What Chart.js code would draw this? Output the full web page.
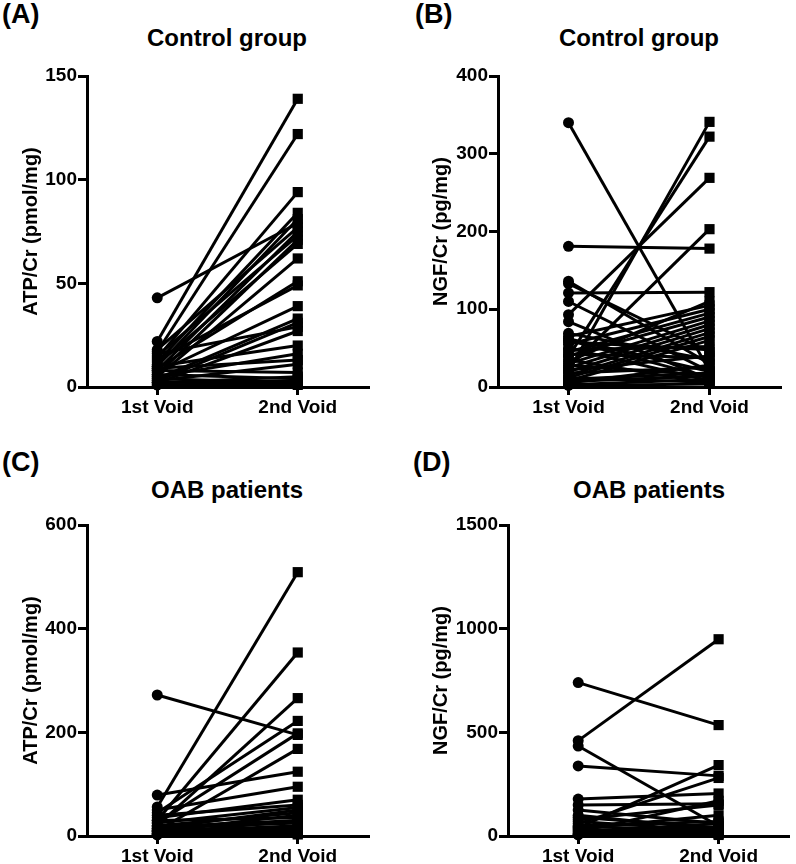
<!DOCTYPE html>
<html>
<head>
<meta charset="utf-8">
<script src="https://cdn.jsdelivr.net/npm/chart.js@4/dist/chart.umd.min.js"></script>
<style>
  html, body { margin: 0; padding: 0; background: #fff; }
  body { width: 796px; height: 864px; position: relative; overflow: hidden;
         font-family: 'Liberation Sans', Arial, sans-serif; font-weight: bold; color: #000; }
  .cell { position: absolute; }
  .letter { position: absolute; font-size: 27px; line-height: 27px; white-space: nowrap; }
  .ttl { position: absolute; font-size: 24px; line-height: 24px; white-space: nowrap; transform: translateX(-50%); }
</style>
</head>
<body>
<div class="letter" style="left:2px;top:1px;">(A)</div>
<div class="letter" style="left:415px;top:1px;">(B)</div>
<div class="letter" style="left:2px;top:449px;">(C)</div>
<div class="letter" style="left:413px;top:449px;">(D)</div>
<div class="ttl" style="left:227px;top:26px;">Control group</div>
<div class="ttl" style="left:639px;top:26px;">Control group</div>
<div class="ttl" style="left:227px;top:478px;">OAB patients</div>
<div class="ttl" style="left:649px;top:478px;">OAB patients</div>

<div class="cell" style="left:0;top:0;width:398px;height:420px;"><canvas id="cA" width="398" height="420"></canvas></div>
<div class="cell" style="left:398px;top:0;width:398px;height:420px;"><canvas id="cB" width="398" height="420"></canvas></div>
<div class="cell" style="left:0;top:420px;width:398px;height:444px;"><canvas id="cC" width="398" height="444"></canvas></div>
<div class="cell" style="left:398px;top:420px;width:398px;height:444px;"><canvas id="cD" width="398" height="444"></canvas></div>

<script>
// ---- categories ----
const voidLabels = ['1st Void', '2nd Void'];

// ---- (A) Control group, ATP/Cr (pmol/mg) ----
const ctrlAtpFirst  = [43, 22, 17, 14, 12, 10, 18, 8, 15, 6, 11, 5, 9, 13, 7, 4, 3, 16, 2, 10, 5, 3, 8, 2, 6, 1, 4, 1, 9, 2];
const ctrlAtpSecond = [79, 139, 122, 94, 84, 81, 77, 75, 73, 71, 69, 62, 51, 49, 39, 33, 31, 29, 27, 20, 16, 11, 7, 5, 4, 2, 2, 1, 13, 3];
const ticksA = [0, 50, 100, 150];

// ---- (B) Control group, NGF/Cr (pg/mg) ----
const ctrlNgfFirst  = [340, 181, 136, 133, 121, 110, 93, 84, 20, 39, 25, 69, 65, 60, 55, 50, 45, 40, 35, 30, 28, 25, 22, 20, 18, 15, 12, 10, 8, 5, 3, 48, 58, 33, 12, 7, 2, 62, 42];
const ctrlNgfSecond = [21, 178, 30, 45, 122, 20, 269, 10, 341, 322, 203, 35, 105, 12, 100, 8, 95, 90, 5, 85, 15, 80, 40, 75, 25, 70, 65, 18, 60, 28, 10, 52, 48, 110, 6, 14, 4, 20, 38];
const ticksB = [0, 100, 200, 300, 400];

// ---- (C) OAB patients, ATP/Cr (pmol/mg) ----
const oabAtpFirst  = [272, 79, 56, 30, 20, 45, 25, 10, 50, 35, 40, 15, 20, 10, 30, 5, 15, 8, 12, 3, 6, 25, 18, 4, 9, 2];
const oabAtpSecond = [195, 124, 509, 354, 266, 222, 198, 168, 95, 70, 60, 50, 45, 40, 35, 30, 25, 20, 15, 10, 5, 55, 30, 12, 8, 3];
const ticksC = [0, 200, 400, 600];

// ---- (D) OAB patients, NGF/Cr (pg/mg) ----
const oabNgfFirst  = [740, 460, 434, 338, 178, 150, 125, 100, 40, 60, 80, 20, 90, 70, 50, 30, 15, 10, 45, 25, 5, 35, 8];
const oabNgfSecond = [535, 949, 48, 290, 205, 155, 60, 30, 342, 280, 150, 170, 40, 25, 70, 20, 60, 15, 30, 10, 45, 100, 5];
const ticksD = [0, 500, 1000, 1500];

const FONT = "'Liberation Sans', Arial, sans-serif";
const LW = 3;

function makeChart(id, first, second, yTicks, yTitle, geom) {
  const datasets = first.map((a, i) => ({
    data: [{ x: 1, y: a }, { x: 2, y: second[i] }],
    borderColor: '#000',
    backgroundColor: '#000',
    borderWidth: LW,
    pointStyle: ['circle', 'rect'],
    pointRadius: [5.5, 7.2],
    pointBorderWidth: 0,
    pointBackgroundColor: '#000',
    clip: false,
    tension: 0
  }));
  return new Chart(document.getElementById(id), {
    type: 'line',
    data: { datasets },
    options: {
      responsive: false,
      animation: false,
      events: [],
      layout: { padding: { left: 0, right: geom.right, top: geom.top, bottom: 0 } },
      plugins: { legend: { display: false }, tooltip: { enabled: false }, title: { display: false } },
      scales: {
        x: {
          type: 'linear', min: 0.5, max: 2.5,
          afterBuildTicks: s => { s.ticks = [{ value: 1 }, { value: 2 }]; },
          afterFit: s => { s.height = geom.xh; },
          ticks: {
            autoSkip: false, maxRotation: 0, color: '#000', padding: geom.xpad,
            font: { family: FONT, size: 19, weight: 'bold' },
            callback: v => voidLabels[Math.round(v) - 1]
          },
          grid: { display: true, drawOnChartArea: false, drawTicks: true, tickLength: 8,
                  tickColor: '#000', tickWidth: LW, color: '#000', lineWidth: LW },
          border: { display: true, color: '#000', width: LW }
        },
        y: {
          type: 'linear', min: yTicks[0], max: yTicks[yTicks.length - 1],
          afterBuildTicks: s => { s.ticks = yTicks.map(v => ({ value: v })); },
          afterFit: s => { s.width = geom.yw; },
          ticks: { color: '#000', padding: 1, font: { family: FONT, size: 19, weight: 'bold' },
                   callback: v => String(v) },
          grid: { display: true, drawOnChartArea: false, drawTicks: true, tickLength: 9,
                  tickColor: '#000', tickWidth: LW, color: '#000', lineWidth: LW },
          border: { display: true, color: '#000', width: LW },
          title: { display: true, text: yTitle, color: '#000',
                   font: { family: FONT, size: 20, weight: 'bold' },
                   padding: { top: geom.tpad, bottom: 0 } }
        }
      }
    }
  });
}

makeChart('cA', ctrlAtpFirst, ctrlAtpSecond, ticksA, 'ATP/Cr (pmol/mg)',
  { top: 76, right: 30, yw: 87, xh: 33, xpad: 1, tpad: 19 });
makeChart('cB', ctrlNgfFirst, ctrlNgfSecond, ticksB, 'NGF/Cr (pg/mg)',
  { top: 76, right: 16, yw: 100, xh: 33, xpad: 1, tpad: 31 });
makeChart('cC', oabAtpFirst, oabAtpSecond, ticksC, 'ATP/Cr (pmol/mg)',
  { top: 105, right: 30, yw: 87, xh: 28, xpad: 1, tpad: 19 });
makeChart('cD', oabNgfFirst, oabNgfSecond, ticksD, 'NGF/Cr (pg/mg)',
  { top: 105, right: 6, yw: 110, xh: 28, xpad: 1, tpad: 31 });
</script>
</body>
</html>
